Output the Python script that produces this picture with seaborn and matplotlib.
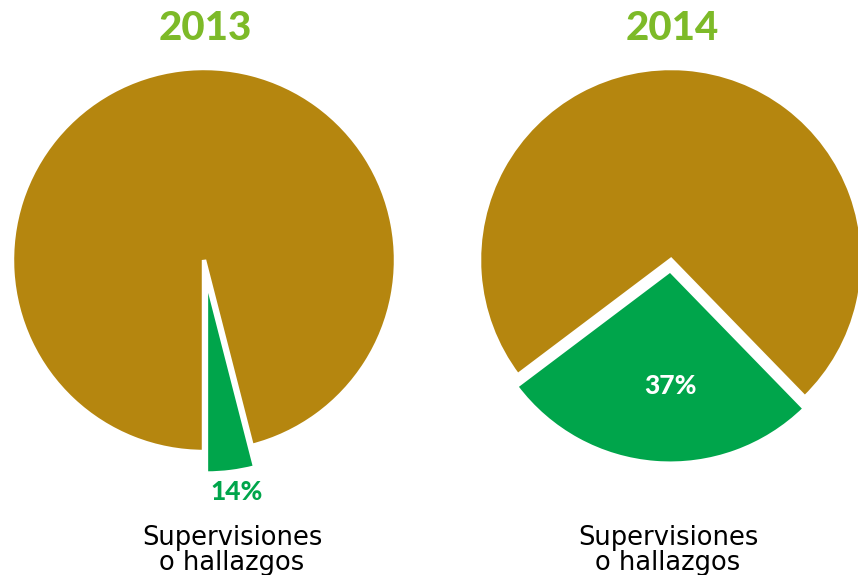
import matplotlib
matplotlib.use("Agg")
import matplotlib.pyplot as plt
import seaborn as sns

# ---- data ----
years = ["2013", "2014"]
# drawn wedge shares [highlighted, rest] as they appear in the picture
share_2013 = [4, 96]
share_2014 = [27, 73]
printed_labels = ["14%", "37%"]
category_lines = ["Supervisiones", "o hallazgos"]

brown = "#B5860F"
green = "#00A54B"
title_green = "#7DBA28"

sns.set_theme(style="white")
plt.rcParams["font.family"] = ["Lato", "DejaVu Sans"]

W, H = 858, 575
fig = plt.figure(figsize=(W / 100, H / 100), dpi=100)
ax = fig.add_axes([0, 0, 1, 1])

def Y(y_img):
    return H - y_img

R = 192
pies = [
    dict(vals=share_2013, center=(204, Y(260)), start=-90, explode=[21, 0]),
    dict(vals=share_2014, center=(671, Y(260)), start=-143, explode=[11, 0]),
]

for p in pies:
    wedges, _ = ax.pie(p["vals"], colors=[green, brown], startangle=p["start"],
                       counterclock=True, center=p["center"], radius=R,
                       explode=p["explode"],
                       wedgeprops=dict(edgecolor="white", linewidth=3.2, joinstyle="miter"))
    wedges[0].set_linewidth(2.2)

ax.set_xlim(0, W)
ax.set_ylim(0, H)
ax.set_aspect("equal", adjustable="box")
ax.axis("off")

title_x = [205, 672]
for yr, tx in zip(years, title_x):
    ax.text(tx, Y(29), yr, ha="center", va="center", fontsize=29,
            fontweight="black", color=title_green)

ax.text(237, Y(492), printed_labels[0], ha="center", va="center", fontsize=19,
        fontweight="black", color=green)
ax.text(670, Y(386), printed_labels[1], ha="center", va="center", fontsize=19,
        fontweight="black", color="white")

label_x = [232, 668]
for lx in label_x:
    ax.text(lx, Y(545), category_lines[0], ha="center", va="baseline", fontsize=18.5,
            color="black", family=["DejaVu Sans"])
    ax.text(lx, Y(570), category_lines[1], ha="center", va="baseline", fontsize=18.5,
            color="black", family=["DejaVu Sans"])

fig.savefig("out.png", dpi=100, facecolor="white")
